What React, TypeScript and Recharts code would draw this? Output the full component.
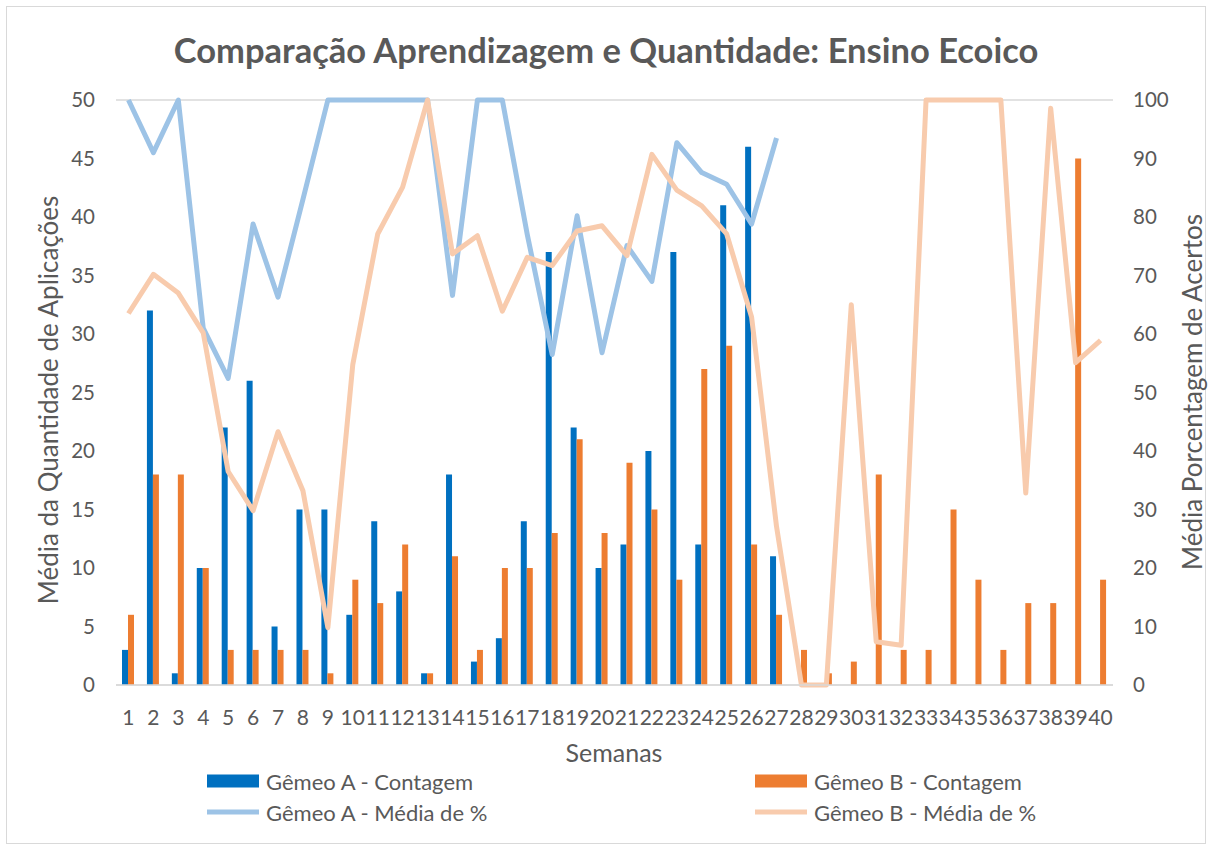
import {
  ComposedChart,
  Bar,
  Line,
  XAxis,
  YAxis,
  CartesianGrid,
} from "recharts";

const weeks = Array.from({ length: 40 }, (_, i) => String(i + 1));

const countA: (number | null)[] = [
  3, 32, 1, 10, 22, 26, 5, 15, 15, 6, 14, 8, 1, 18, 2, 4, 14, 37, 22, 10,
  12, 20, 37, 12, 41, 46, 11, null, null, null, null, null, null, null, null,
  null, null, null, null, null,
];

const countB: number[] = [
  6, 18, 18, 10, 3, 3, 3, 3, 1, 9, 7, 12, 1, 11, 3, 10, 10, 13, 21, 13, 19,
  15, 9, 27, 29, 12, 6, 3, 1, 2, 18, 3, 3, 15, 9, 3, 7, 7, 45, 9,
];

const pctA: (number | null)[] = [
  100, 91, 100, 61, 52.4, 78.8, 66.3, 83, 100, 100, 100, 100, 100, 66.6, 100,
  100, 77, 56.5, 80.2, 56.8, 75.1, 69, 92.7, 87.6, 85.6, 78.8, 93.5, null,
  null, null, null, null, null, null, null, null, null, null, null, null,
];

const pctB: number[] = [
  63.5, 70.2, 67, 60.2, 36.5, 29.8, 43.3, 33.2, 9.8, 54.8, 77.1, 85.1, 100,
  73.7, 76.8, 63.9, 73.1, 71.7, 77.6, 78.5, 73.4, 90.7, 84.6, 81.9, 77.1, 62.9,
  27.1, 0, 0, 65, 7.4, 6.8, 100, 100, 100, 100, 32.8, 98.6, 55.1, 58.9,
];

const leftTicks = [0, 5, 10, 15, 20, 25, 30, 35, 40, 45, 50];
const rightTicks = [0, 10, 20, 30, 40, 50, 60, 70, 80, 90, 100];

const data = weeks.map((w, i) => ({
  week: w,
  countA: countA[i],
  countB: countB[i],
  pctA: pctA[i],
  pctB: pctB[i],
}));

const FONT = "Lato, 'Open Sans', sans-serif";
const TEXT = "#595959";
const BLUE = "#0070C0";
const ORANGE = "#ED7D31";
const LIGHT_BLUE = "#9DC3E6";
const LIGHT_ORANGE = "#F8CBAD";

const legendItems = [
  { label: "Gêmeo A - Contagem", color: BLUE, kind: "bar", x: 207, y: 781 },
  { label: "Gêmeo B - Contagem", color: ORANGE, kind: "bar", x: 755, y: 781 },
  { label: "Gêmeo A - Média de %", color: LIGHT_BLUE, kind: "line", x: 207, y: 812 },
  { label: "Gêmeo B - Média de %", color: LIGHT_ORANGE, kind: "line", x: 755, y: 812 },
];

export default function App() {
  return (
    <div
      style={{
        position: "absolute",
        left: 0,
        top: 0,
        width: 1212,
        height: 848,
        background: "#fff",
        fontFamily: FONT,
        color: TEXT,
      }}
    >
      <div
        style={{
          position: "absolute",
          left: 6,
          top: 6,
          width: 1200,
          height: 838,
          border: "1.5px solid #d9d9d9",
          boxSizing: "border-box",
        }}
      />
      <div
        style={{
          position: "absolute",
          left: 0,
          width: 1212,
          top: 30,
          textAlign: "center",
          fontSize: 34.5,
          fontWeight: 700,
          lineHeight: "40px",
        }}
      >
        Comparação Aprendizagem e Quantidade: Ensino Ecoico
      </div>

      <div style={{ position: "absolute", left: 0, top: 0 }}>
        <ComposedChart
          width={1212}
          height={848}
          data={data}
          margin={{ top: 100, right: 39, bottom: 133, left: 56 }}
          barGap={0}
        >
          <CartesianGrid vertical={false} stroke="#d9d9d9" strokeWidth={1.5} />
          <XAxis
            dataKey="week"
            interval={0}
            tickLine={false}
            axisLine={{ stroke: "#d9d9d9", strokeWidth: 1.5 }}
            tickSize={0}
            tickMargin={25}
            height={30}
            tick={{ fill: TEXT, fontSize: 21, fontFamily: FONT }}
          />
          <YAxis
            yAxisId="left"
            domain={[0, 50]}
            ticks={leftTicks}
            interval={0}
            width={60}
            tickLine={false}
            axisLine={false}
            tickSize={0}
            tickMargin={21}
            tick={{ fill: TEXT, fontSize: 20.5, fontFamily: FONT }}
          />
          <YAxis
            yAxisId="right"
            orientation="right"
            domain={[0, 100]}
            ticks={rightTicks}
            interval={0}
            width={60}
            tickLine={false}
            axisLine={false}
            tickSize={0}
            tickMargin={20}
            tick={{ fill: TEXT, fontSize: 20.5, fontFamily: FONT }}
          />
          <Bar
            yAxisId="left"
            dataKey="countA"
            fill={BLUE}
            barSize={6}
            isAnimationActive={false}
          />
          <Bar
            yAxisId="left"
            dataKey="countB"
            fill={ORANGE}
            barSize={6}
            isAnimationActive={false}
          />
          <Line
            yAxisId="right"
            dataKey="pctA"
            stroke={LIGHT_BLUE}
            strokeWidth={5}
            strokeLinejoin="round"
            dot={false}
            activeDot={false}
            type="linear"
            isAnimationActive={false}
          />
          <Line
            yAxisId="right"
            dataKey="pctB"
            stroke={LIGHT_ORANGE}
            strokeWidth={5}
            strokeLinejoin="round"
            dot={false}
            activeDot={false}
            type="linear"
            isAnimationActive={false}
          />
        </ComposedChart>
      </div>

      <div
        style={{
          position: "absolute",
          left: 48,
          top: 400,
          transform: "translate(-50%, -50%) rotate(-90deg)",
          whiteSpace: "nowrap",
          fontSize: 26,
        }}
      >
        Média da Quantidade de Aplicações
      </div>
      <div
        style={{
          position: "absolute",
          left: 1192,
          top: 392,
          transform: "translate(-50%, -50%) rotate(-90deg)",
          whiteSpace: "nowrap",
          fontSize: 26,
        }}
      >
        Média Porcentagem de Acertos
      </div>
      <div
        style={{
          position: "absolute",
          left: 614,
          top: 752,
          transform: "translate(-50%, -50%)",
          whiteSpace: "nowrap",
          fontSize: 25,
        }}
      >
        Semanas
      </div>

      {legendItems.map((item) => (
        <div
          key={item.label}
          style={{
            position: "absolute",
            left: item.x,
            top: item.y,
            transform: "translateY(-50%)",
            display: "flex",
            alignItems: "center",
            whiteSpace: "nowrap",
            fontSize: 22,
          }}
        >
          <span
            style={{
              display: "inline-block",
              width: 52,
              height: item.kind === "bar" ? 13 : 5,
              background: item.color,
              marginRight: 7,
            }}
          />
          {item.label}
        </div>
      ))}
    </div>
  );
}
